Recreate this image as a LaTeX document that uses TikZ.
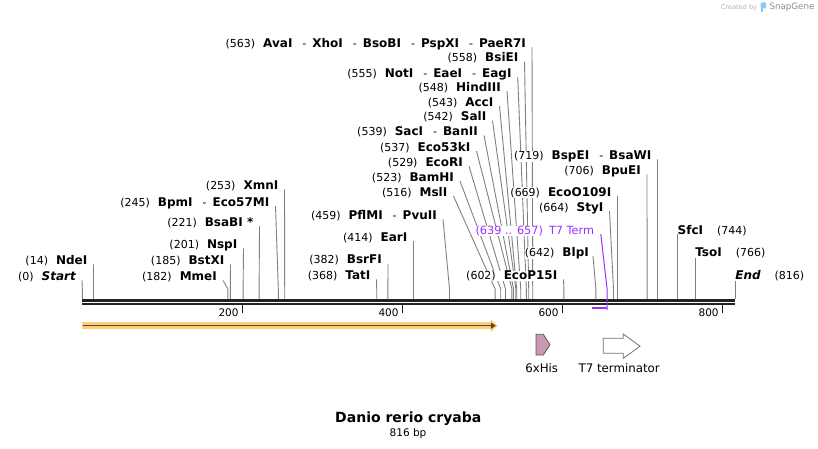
\documentclass[tikz,border=0pt]{standalone}
\usepackage{fontspec}
\setmainfont{DejaVu Sans}
\usetikzlibrary{arrows.meta,backgrounds}

\definecolor{cutgray}{RGB}{128,128,128}
\definecolor{backbone}{RGB}{34,34,34}
\definecolor{t7purple}{RGB}{155,48,255}
\definecolor{orfhalo}{RGB}{255,206,122}
\definecolor{orfline}{RGB}{85,70,45}
\definecolor{hisfill}{RGB}{201,153,180}
\definecolor{sglogo}{RGB}{140,200,240}

% bp -> x
\newcommand{\bp}[1]{82.3+0.8*#1}
\newcommand{\enz}[2]{(#1)\hspace{8pt}{\bfseries\fontsize{12}{14}\selectfont #2}}
\newcommand{\zne}[2]{{\bfseries\fontsize{12}{14}\selectfont #2}\hspace{14pt}(#1)}
\newcommand{\andenz}{\hspace{10pt}{\mdseries\fontsize{11}{13}\selectfont -}\hspace{6pt}}

\begin{document}
\begin{tikzpicture}[x=1pt, y=-1pt,
    site/.style={anchor=base east, inner sep=0pt, fill=white, font=\fontsize{11}{13}\selectfont},
    siteR/.style={anchor=base west, inner sep=0pt, fill=white, font=\fontsize{11}{13}\selectfont},
    cutline/.style={draw=cutgray, line width=0.9pt},
    backline/.style={draw=backbone, line width=2.7pt},
    tickmark/.style={draw=backbone, line width=1.5pt},
    ticklabel/.style={anchor=base east, inner sep=0pt, font=\fontsize{10.5}{12}\selectfont},
    featlabel/.style={anchor=base, inner sep=0pt, font=\fontsize{11.8}{14}\selectfont}]

    \useasboundingbox (0,0) rectangle (818,449);

    % Cut positions on the backbone
    \coordinate (avai-p)     at (\bp{563},299);
    \coordinate (bsiei-p)    at (\bp{558},299);
    \coordinate (noti-p)     at (\bp{555},299);
    \coordinate (hindiii-p)  at (\bp{548},299);
    \coordinate (acci-p)     at (\bp{543},299);
    \coordinate (sali-p)     at (\bp{542},299);
    \coordinate (saci-p)     at (\bp{539},299);
    \coordinate (eco53ki-p)  at (\bp{537},299);
    \coordinate (ecori-p)    at (\bp{529},299);
    \coordinate (bamhi-p)    at (\bp{523},299);
    \coordinate (msli-p)     at (\bp{516},299);
    \coordinate (pflmi-p)    at (\bp{459},299);
    \coordinate (eari-p)     at (\bp{414},299);
    \coordinate (bsrfi-p)    at (\bp{382},299);
    \coordinate (tati-p)     at (\bp{368},299);
    \coordinate (ecop15i-p)  at (\bp{602},299);
    \coordinate (blpi-p)     at (\bp{642},299);
    \coordinate (styi-p)     at (\bp{664},299);
    \coordinate (ecoo109i-p) at (\bp{669},299);
    \coordinate (bpuei-p)    at (\bp{706},299);
    \coordinate (bspei-p)    at (\bp{719},299);
    \coordinate (sfci-p)     at (\bp{744},299);
    \coordinate (tsoi-p)     at (\bp{766},299);
    \coordinate (finish-p)   at (\bp{816},299);
    \coordinate (xmni-p)     at (\bp{253},299);
    \coordinate (bpmi-p)     at (\bp{245},299);
    \coordinate (bsabi-p)    at (\bp{221},299);
    \coordinate (nspi-p)     at (\bp{201},299);
    \coordinate (bstxi-p)    at (\bp{185},299);
    \coordinate (mmei-p)     at (\bp{182},299);
    \coordinate (ndei-p)     at (\bp{14},299);
    \coordinate (start-p)    at (\bp{0},299);
    \coordinate (t7-a)       at (\bp{637.5},308.3);
    \coordinate (t7-b)       at (\bp{656},308.3);

    % Nodes {sites}
    \node [site] (avai)     at (526,47.1)   {\enz{563}{AvaI\andenz XhoI\andenz BsoBI\andenz PspXI\andenz PaeR7I}};
    \node [site] (bsiei)    at (518.5,61.7) {\enz{558}{BsiEI}};
    \node [site] (noti)     at (511.7,77.1) {\enz{555}{NotI\andenz EaeI\andenz EagI}};
    \node [site] (hindiii)  at (501,91.1)   {\enz{548}{HindIII}};
    \node [site] (acci)     at (493.5,106.1) {\enz{543}{AccI}};
    \node [site] (sali)     at (486.5,120.7) {\enz{542}{SalI}};
    \node [site] (saci)     at (478,135.4)  {\enz{539}{SacI\andenz BanII}};
    \node [site] (eco53ki)  at (470.5,151.1) {\enz{537}{Eco53kI}};
    \node [site] (ecori)    at (463,166.1)  {\enz{529}{EcoRI}};
    \node [site] (bamhi)    at (454,181.1)  {\enz{523}{BamHI}};
    \node [site] (msli)     at (447.5,196.1) {\enz{516}{MslI}};
    \node [site] (pflmi)    at (437,219.4)  {\enz{459}{PflMI\andenz PvuII}};
    \node [site] (eari)     at (407.5,241.1) {\enz{414}{EarI}};
    \node [site] (bsrfi)    at (382,263.7)  {\enz{382}{BsrFI}};
    \node [site] (tati)     at (370.5,279.4) {\enz{368}{TatI}};
    \node [site] (ecop15i)  at (557.5,279.4) {\enz{602}{EcoP15I}};
    \node [site] (blpi)     at (589,256.1)  {\enz{642}{BlpI}};
    \node [site] (styi)     at (603.5,211.1) {\enz{664}{StyI}};
    \node [site] (ecoo109i) at (611.5,196.1) {\enz{669}{EcoO109I}};
    \node [site] (bpuei)    at (641,174.4)  {\enz{706}{BpuEI}};
    \node [site] (bspei)    at (651.5,159.4) {\enz{719}{BspEI\andenz BsaWI}};
    \node [site] (xmni)     at (278.5,189.4) {\enz{253}{XmnI}};
    \node [site] (bpmi)     at (269.5,206.1) {\enz{245}{BpmI\andenz Eco57MI}};
    \node [site] (bsabi)    at (253.5,226.1) {\enz{221}{BsaBI *}};
    \node [site] (nspi)     at (237.5,248.4) {\enz{201}{NspI}};
    \node [site] (bstxi)    at (224.5,264.4) {\enz{185}{BstXI}};
    \node [site] (ndei)     at (87.5,264.4) {\enz{14}{NdeI}};
    \node [site] (mmei)     at (217,280.4)  {\enz{182}{MmeI}};
    \node [site] (start)    at (76,280.4)   {\enz{0}{\itshape Start}};
    \node [siteR] (sfci)    at (\bp{744},234.4) {\zne{744}{SfcI}};
    \node [siteR] (tsoi)    at (\bp{766},256.7) {\zne{766}{TsoI}};
    \node [siteR] (finish)  at (\bp{816},279.4) {\zne{816}{\itshape End}};
    \node [site, text=t7purple, font=\fontsize{11.3}{13}\selectfont] (t7term) at (594.3,234.1) {(639 .. 657)\hspace{6pt}T7 Term};

    % Paths
    \begin{scope}[on background layer]
    \draw [cutline] ([xshift=6pt]avai.base east)     -- ([yshift=10pt]avai-p)     -- (avai-p);
    \draw [cutline] ([xshift=6pt]bsiei.base east)    -- ([yshift=10pt]bsiei-p)    -- (bsiei-p);
    \draw [cutline] ([xshift=6pt]noti.base east)     -- ([yshift=10pt]noti-p)     -- (noti-p);
    \draw [cutline] ([xshift=6pt]hindiii.base east)  -- ([yshift=10pt]hindiii-p)  -- (hindiii-p);
    \draw [cutline] ([xshift=6pt]acci.base east)     -- ([yshift=10pt]acci-p)     -- (acci-p);
    \draw [cutline] ([xshift=6pt]sali.base east)     -- ([yshift=10pt]sali-p)     -- (sali-p);
    \draw [cutline] ([xshift=6pt]saci.base east)     -- ([yshift=10pt]saci-p)     -- (saci-p);
    \draw [cutline] ([xshift=6pt]eco53ki.base east)  -- ([yshift=10pt]eco53ki-p)  -- (eco53ki-p);
    \draw [cutline] ([xshift=6pt]ecori.base east)    -- ([yshift=10pt]ecori-p)    -- (ecori-p);
    \draw [cutline] ([xshift=6pt]bamhi.base east)    -- ([yshift=10pt]bamhi-p)    -- (bamhi-p);
    \draw [cutline] ([xshift=6pt]msli.base east)     -- ([yshift=10pt]msli-p)     -- (msli-p);
    \draw [cutline] ([xshift=6pt]pflmi.base east)    -- ([yshift=10pt]pflmi-p)    -- (pflmi-p);
    \draw [cutline] ([xshift=6pt]eari.base east)     -- ([yshift=10pt]eari-p)     -- (eari-p);
    \draw [cutline] ([xshift=6pt]bsrfi.base east)    -- ([yshift=10pt]bsrfi-p)    -- (bsrfi-p);
    \draw [cutline] ([xshift=6pt]tati.base east)     -- ([yshift=10pt]tati-p)     -- (tati-p);
    \draw [cutline] ([xshift=6pt]ecop15i.base east)  -- ([yshift=10pt]ecop15i-p)  -- (ecop15i-p);
    \draw [cutline] ([xshift=4pt]blpi.base east)     -- ([yshift=10pt]blpi-p)     -- (blpi-p);
    \draw [cutline] ([xshift=6pt]styi.base east)     -- ([yshift=10pt]styi-p)     -- (styi-p);
    \draw [cutline] ([xshift=6pt]ecoo109i.base east) -- ([yshift=10pt]ecoo109i-p) -- (ecoo109i-p);
    \draw [cutline] ([xshift=6pt]bpuei.base east)    -- ([yshift=10pt]bpuei-p)    -- (bpuei-p);
    \draw [cutline] ([xshift=6pt]bspei.base east)    -- ([yshift=10pt]bspei-p)    -- (bspei-p);
    \draw [cutline] ([xshift=6pt]xmni.base east)     -- ([yshift=10pt]xmni-p)     -- (xmni-p);
    \draw [cutline] ([xshift=6pt]bpmi.base east)     -- ([yshift=10pt]bpmi-p)     -- (bpmi-p);
    \draw [cutline] ([xshift=6pt]bsabi.base east)    -- ([yshift=10pt]bsabi-p)    -- (bsabi-p);
    \draw [cutline] ([xshift=6pt]nspi.base east)     -- ([yshift=10pt]nspi-p)     -- (nspi-p);
    \draw [cutline] ([xshift=6pt]bstxi.base east)    -- ([yshift=10pt]bstxi-p)    -- (bstxi-p);
    \draw [cutline] ([xshift=6pt]ndei.base east)     -- ([yshift=10pt]ndei-p)     -- (ndei-p);
    \draw [cutline] ([xshift=6pt]mmei.base east)     -- ([yshift=10pt]mmei-p)     -- (mmei-p);
    \draw [cutline] ([xshift=6pt]start.base east)    -- ([yshift=10pt]start-p)    -- (start-p);
    \draw [cutline] (sfci.base west)   -- (sfci-p);
    \draw [cutline] (tsoi.base west)   -- (tsoi-p);
    \draw [cutline] (finish.base west) -- (finish-p);
    \end{scope}

    % Backbone and ticks
    \draw [backline] (\bp{0},300.3) -- (\bp{816},300.3);
    \draw [backline] (\bp{0},304) -- (\bp{816},304);
    \foreach \t in {200,400,600,800} {
        \draw [tickmark] (\bp{\t},305) -- (\bp{\t},312.7);
        \node [ticklabel] (tick\t) at (\bp{\t}-3.5,316.1) {\t};
    }

    % T7 Term marker
    \draw [t7purple, line width=2pt] (t7-a) -- (t7-b);
    \draw [t7purple, line width=1pt] ([xshift=6.5pt]t7term.base east) -- ([yshift=19pt]t7-b) -- ([yshift=-1.5pt]t7-b);

    % ORF
    \draw [orfhalo, line width=6.6pt, -{Triangle[length=7pt, width=13pt]}] (81.7,325.7) -- (497.5,325.7);
    \draw [orfline, line width=1.5pt, -{Triangle[length=5pt, width=6pt]}] (82.5,325.7) -- (495.8,325.7);

    % Features
    \draw [draw=black!65, fill=hisfill, line width=0.8pt]
        (536,334.3) -- (543.3,334.3) -- (550,344.7) -- (543.3,355) -- (536,355) -- cycle;
    \draw [draw=black!55, fill=white, line width=0.8pt]
        (603.3,338.3) -- (623.3,338.3) -- (623.3,334) -- (640,346.2) -- (623.3,358.3)
        -- (623.3,353.3) -- (603.3,353.3) -- cycle;
    \node [featlabel] (his)  at (541.7,372) {6xHis};
    \node [featlabel] (t7t)  at (619.2,372) {T7 terminator};

    % Title
    \node [anchor=base, inner sep=0pt, font=\bfseries\fontsize{14}{16}\selectfont] (title) at (408.3,422.7) {Danio rerio cryaba};
    \node [anchor=base, inner sep=0pt, font=\fontsize{10.5}{12}\selectfont] (length) at (408,436.7) {816 bp};

    % Watermark
    \node [anchor=east, inner sep=0pt, text=black!30, font=\fontsize{6.6}{8}\selectfont] (created) at (757.3,7.3) {Created by};
    \fill [sglogo, rounded corners=1pt] (760.7,2.5) rectangle (766,8.5);
    \fill [sglogo] (760.7,8.5) rectangle (763,12);
    \node [anchor=west, inner sep=0pt, text=black!45, font=\fontsize{8.7}{10}\selectfont] (snapgene) at (769.3,7.3) {SnapGene};
\end{tikzpicture}
\end{document}
